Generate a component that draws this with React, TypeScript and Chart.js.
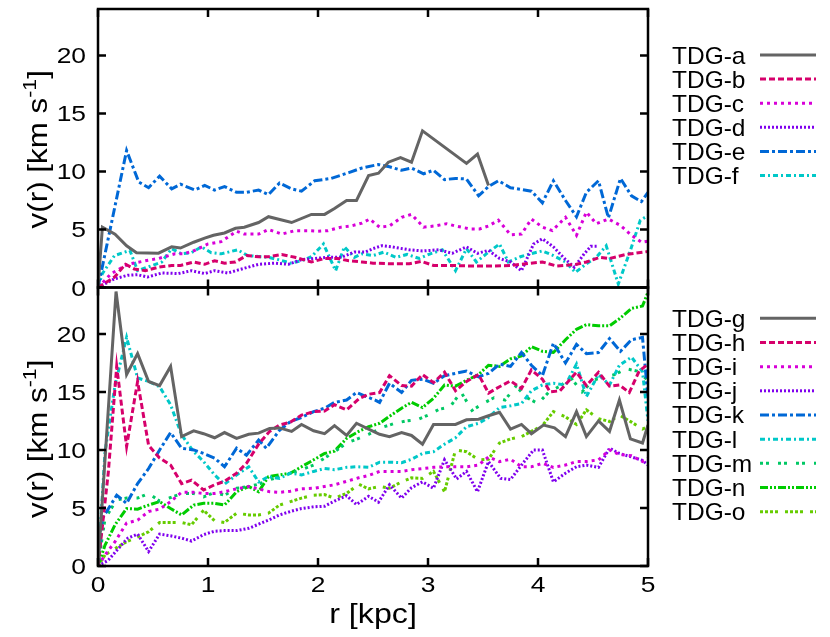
import React, { useEffect, useRef } from 'react';
import { Chart, registerables } from 'chart.js';

Chart.register(...registerables);

// ---------- data (r in kpc, v in km/s) ----------
const rA = [0, 0.04, 0.155, 0.26, 0.35, 0.55, 0.67, 0.75, 0.87, 0.97, 1.05, 1.15, 1.25, 1.33, 1.46, 1.55, 1.76, 1.94, 2.06, 2.15, 2.26, 2.35, 2.46, 2.55, 2.64, 2.75, 2.85, 2.95, 3.35, 3.45, 3.55];
const vA = [0, 5.2, 4.6, 3.6, 3.0, 2.96, 3.5, 3.4, 3.9, 4.25, 4.5, 4.7, 5.1, 5.2, 5.6, 6.1, 5.6, 6.3, 6.3, 6.8, 7.5, 7.5, 9.65, 9.85, 10.8, 11.2, 10.8, 13.5, 10.7, 11.5, 8.8];

const rB = [0, 0.15, 0.25, 0.33, 0.43, 0.55, 0.67, 0.75, 0.87, 0.97, 1.06, 1.15, 1.25, 1.35, 1.46, 1.55, 1.67, 1.79, 1.94, 2.06, 2.18, 2.28, 2.4, 2.5, 2.65, 2.83, 2.94, 3.05, 3.23, 3.38, 3.56, 3.75, 3.89, 4.04, 4.17, 4.35, 4.44, 4.56, 4.65, 4.8, 4.96, 5.0];
const vB = [0, 0.9, 2.0, 1.6, 1.45, 1.75, 1.9, 1.9, 2.2, 2.0, 2.3, 2.1, 2.2, 2.75, 2.65, 2.65, 2.85, 2.6, 2.2, 2.5, 2.5, 2.3, 2.2, 2.1, 2.05, 2.05, 2.25, 1.9, 1.9, 1.85, 1.85, 1.9, 2.05, 2.2, 1.85, 2.0, 2.2, 2.6, 2.5, 2.85, 3.05, 3.1];

const rC = [0, 0.12, 0.27, 0.43, 0.55, 0.7, 0.78, 0.88, 1.0, 1.12, 1.26, 1.33, 1.46, 1.55, 1.67, 1.79, 1.91, 2.0, 2.09, 2.21, 2.3, 2.4, 2.47, 2.56, 2.65, 2.76, 2.85, 2.96, 3.06, 3.17, 3.25, 3.38, 3.47, 3.55, 3.64, 3.75, 3.85, 3.94, 4.04, 4.13, 4.25, 4.35, 4.44, 4.53, 4.64, 4.75, 4.85, 4.94, 5.0];
const vC = [0, 1.2, 2.0, 2.3, 2.5, 2.9, 2.9, 3.2, 3.75, 3.95, 4.85, 4.6, 4.6, 5.0, 4.6, 4.9, 4.9, 4.85, 4.9, 5.2, 5.3, 5.55, 5.9, 5.2, 5.3, 6.05, 6.3, 5.2, 5.3, 5.5, 5.3, 5.05, 5.05, 5.3, 5.8, 4.55, 4.6, 5.9, 5.2, 4.9, 6.05, 4.5, 6.5, 5.5, 5.9, 5.35, 4.5, 3.9, 4.0];

const rD = [0, 0.15, 0.27, 0.36, 0.45, 0.58, 0.73, 0.85, 0.97, 1.06, 1.18, 1.27, 1.46, 1.61, 1.73, 1.85, 1.97, 2.09, 2.21, 2.33, 2.43, 2.5, 2.58, 2.67, 2.83, 2.95, 3.1, 3.22, 3.35, 3.45, 3.55, 3.65, 3.75, 3.85, 3.96, 4.04, 4.14, 4.24, 4.33, 4.42, 4.48, 4.55];
const vD = [0, 0.75, 1.05, 1.1, 0.9, 1.25, 1.2, 1.45, 1.2, 1.45, 1.25, 1.5, 2.0, 2.1, 2.0, 2.4, 2.5, 2.6, 2.6, 3.05, 3.05, 3.35, 3.6, 3.5, 3.25, 3.15, 3.25, 2.95, 3.5, 2.95, 3.2, 2.5, 2.2, 1.45, 3.75, 4.2, 3.5, 2.5, 1.75, 2.9, 3.55, 3.55];

const rE = [0, 0.26, 0.37, 0.46, 0.56, 0.67, 0.75, 0.88, 0.97, 1.06, 1.15, 1.26, 1.35, 1.46, 1.55, 1.65, 1.76, 1.85, 1.97, 2.12, 2.28, 2.4, 2.5, 2.55, 2.65, 2.76, 2.85, 2.96, 3.05, 3.15, 3.25, 3.35, 3.46, 3.55, 3.64, 3.75, 3.85, 3.94, 4.04, 4.14, 4.25, 4.35, 4.44, 4.55, 4.64, 4.75, 4.85, 4.94, 5.0];
const vE = [0, 11.8, 9.1, 8.6, 9.6, 8.5, 8.9, 8.4, 8.8, 8.4, 8.7, 8.2, 8.2, 8.4, 8.0, 9.0, 8.5, 8.3, 9.2, 9.4, 9.9, 10.3, 10.5, 10.6, 10.4, 10.1, 10.3, 9.8, 10.1, 9.3, 9.4, 9.35, 7.9, 8.7, 9.2, 8.6, 8.45, 8.3, 7.3, 9.2, 7.5, 6.1, 8.2, 9.2, 6.0, 9.4, 7.9, 7.4, 8.2];

const rF = [0, 0.04, 0.15, 0.29, 0.36, 0.45, 0.58, 0.67, 0.76, 0.85, 0.94, 1.03, 1.12, 1.27, 1.36, 1.48, 1.55, 1.64, 1.75, 1.85, 1.94, 2.05, 2.16, 2.24, 2.33, 2.4, 2.5, 2.6, 2.71, 2.81, 2.92, 3.02, 3.13, 3.25, 3.35, 3.44, 3.53, 3.65, 3.73, 3.84, 3.93, 4.04, 4.14, 4.25, 4.34, 4.44, 4.53, 4.62, 4.73, 4.84, 4.93, 5.0];
const vF = [0, 1.2, 2.75, 3.2, 1.45, 1.75, 2.2, 3.35, 2.9, 3.0, 3.5, 3.0, 2.9, 3.25, 2.75, 2.65, 2.6, 2.4, 2.1, 2.3, 2.65, 3.75, 1.45, 3.5, 2.6, 2.9, 2.75, 3.05, 2.6, 2.85, 2.5, 2.9, 3.25, 1.45, 3.35, 2.2, 2.9, 3.75, 2.2, 2.65, 2.9, 3.15, 2.75, 2.2, 1.3, 2.05, 2.6, 3.6, 0.3, 3.2, 5.8, 6.2];

const rG = [0, 0.164, 0.26, 0.36, 0.46, 0.56, 0.66, 0.76, 0.87, 0.96, 1.06, 1.15, 1.26, 1.37, 1.46, 1.56, 1.65, 1.76, 1.85, 1.96, 2.06, 2.15, 2.26, 2.35, 2.46, 2.56, 2.65, 2.76, 2.85, 2.95, 3.05, 3.15, 3.25, 3.35, 3.46, 3.55, 3.65, 3.75, 3.85, 3.94, 4.05, 4.15, 4.25, 4.35, 4.44, 4.55, 4.65, 4.74, 4.84, 4.95, 5.0];
const vG = [0, 23.65, 16.5, 18.3, 15.9, 15.55, 17.2, 11.15, 11.65, 11.4, 11.05, 11.5, 11.0, 11.35, 11.45, 11.85, 11.9, 11.6, 12.2, 11.65, 11.4, 12.1, 11.25, 12.3, 11.8, 11.35, 11.15, 11.5, 11.25, 10.5, 12.2, 12.2, 12.2, 12.6, 12.65, 12.95, 13.25, 11.8, 12.2, 11.4, 12.15, 11.9, 11.15, 13.3, 11.15, 12.5, 11.6, 14.3, 10.95, 10.6, 12.15];

const rH = [0, 0.094, 0.17, 0.26, 0.36, 0.46, 0.56, 0.66, 0.76, 0.85, 0.96, 1.06, 1.15, 1.26, 1.35, 1.46, 1.56, 1.65, 1.75, 1.85, 1.96, 2.06, 2.15, 2.26, 2.37, 2.46, 2.56, 2.65, 2.76, 2.85, 2.95, 3.05, 3.15, 3.25, 3.35, 3.46, 3.55, 3.65, 3.75, 3.85, 3.94, 4.04, 4.11, 4.2, 4.35, 4.44, 4.55, 4.65, 4.74, 4.83, 4.92, 5.0];
const vH = [0, 8.1, 17.2, 10.3, 15.9, 10.4, 9.3, 8.7, 7.1, 7.4, 6.55, 7.0, 7.3, 8.0, 8.85, 10.5, 11.6, 12.15, 12.4, 13.0, 13.3, 13.35, 13.9, 13.45, 14.4, 14.8, 14.95, 16.4, 15.55, 15.5, 16.5, 15.8, 16.7, 15.1, 15.9, 16.5, 14.9, 15.45, 15.95, 15.3, 16.9, 16.1, 15.0, 15.1, 16.7, 15.55, 16.7, 15.5, 15.6, 14.95, 16.8, 17.4];

const rI = [0, 0.064, 0.155, 0.26, 0.36, 0.46, 0.56, 0.66, 0.76, 0.87, 0.96, 1.06, 1.15, 1.26, 1.37, 1.46, 1.56, 1.65, 1.75, 1.85, 1.96, 2.06, 2.15, 2.26, 2.37, 2.46, 2.56, 2.65, 2.76, 2.85, 2.95, 3.05, 3.15, 3.25, 3.35, 3.46, 3.55, 3.65, 3.75, 3.85, 3.94, 4.04, 4.14, 4.25, 4.35, 4.44, 4.55, 4.65, 4.74, 4.85, 4.95, 5.0];
const vI = [0, 0.95, 2.1, 3.7, 3.95, 4.7, 4.9, 5.55, 6.35, 6.35, 6.25, 6.25, 6.4, 6.65, 6.85, 6.65, 6.4, 6.35, 6.45, 6.65, 6.7, 6.85, 7.0, 7.3, 7.6, 7.8, 8.15, 8.15, 8.15, 8.3, 8.4, 8.5, 8.55, 8.55, 8.55, 8.7, 9.4, 9.0, 9.2, 8.55, 8.55, 8.85, 8.5, 8.7, 9.0, 9.0, 9.15, 10.0, 9.6, 9.5, 9.0, 9.3];

const rJ = [0, 0.094, 0.185, 0.27, 0.36, 0.46, 0.56, 0.66, 0.76, 0.85, 0.96, 1.06, 1.15, 1.26, 1.37, 1.46, 1.55, 1.65, 1.75, 1.85, 1.96, 2.06, 2.15, 2.26, 2.35, 2.46, 2.55, 2.65, 2.76, 2.85, 2.95, 3.05, 3.15, 3.26, 3.35, 3.45, 3.55, 3.66, 3.75, 3.85, 3.96, 4.04, 4.14, 4.25, 4.35, 4.44, 4.55, 4.65, 4.74, 4.85, 4.95, 5.0];
const vJ = [0, 0.5, 1.5, 2.4, 2.75, 1.25, 2.75, 2.6, 2.4, 2.15, 2.7, 3.0, 3.05, 3.05, 3.25, 3.6, 3.95, 4.4, 4.7, 4.95, 5.1, 5.15, 5.6, 6.05, 5.3, 6.0, 5.5, 7.0, 5.85, 6.75, 7.25, 6.7, 9.15, 7.5, 8.15, 6.4, 9.0, 7.55, 7.45, 8.7, 10.0, 10.0, 7.25, 8.0, 8.55, 8.7, 8.5, 10.15, 9.7, 9.4, 9.1, 8.7];

const rK = [0, 0.04, 0.17, 0.26, 0.36, 0.46, 0.56, 0.66, 0.76, 0.87, 0.96, 1.06, 1.15, 1.26, 1.35, 1.46, 1.53, 1.65, 1.75, 1.85, 1.96, 2.06, 2.15, 2.26, 2.35, 2.44, 2.52, 2.56, 2.65, 2.76, 2.85, 2.95, 3.05, 3.15, 3.25, 3.35, 3.46, 3.55, 3.65, 3.75, 3.85, 3.94, 4.04, 4.14, 4.25, 4.35, 4.44, 4.55, 4.65, 4.75, 4.85, 4.95, 5.0];
const vK = [0, 4.1, 6.1, 5.4, 7.1, 8.4, 10.0, 11.5, 10.15, 10.0, 9.7, 9.3, 8.55, 10.15, 9.55, 10.85, 10.15, 11.7, 12.45, 12.8, 13.3, 13.6, 14.1, 14.3, 14.95, 14.6, 14.3, 14.1, 15.75, 14.95, 16.0, 16.1, 15.75, 16.4, 16.6, 16.8, 16.3, 16.6, 17.4, 17.2, 18.4, 17.3, 16.4, 19.2, 17.5, 19.1, 18.3, 18.4, 19.6, 18.5, 19.5, 19.7, 14.5];

const rL = [0, 0.064, 0.155, 0.26, 0.36, 0.46, 0.56, 0.66, 0.76, 0.87, 0.96, 1.06, 1.15, 1.26, 1.37, 1.46, 1.55, 1.65, 1.75, 1.85, 1.96, 2.06, 2.15, 2.26, 2.35, 2.46, 2.56, 2.65, 2.76, 2.85, 2.95, 3.05, 3.15, 3.25, 3.35, 3.46, 3.55, 3.65, 3.75, 3.85, 3.94, 4.04, 4.14, 4.25, 4.35, 4.44, 4.55, 4.65, 4.74, 4.85, 4.95, 5.0];
const vL = [0, 9.85, 15.6, 19.7, 16.2, 15.9, 15.45, 13.9, 11.3, 9.85, 9.0, 7.85, 7.05, 7.85, 8.55, 7.25, 7.7, 7.55, 8.0, 7.85, 8.15, 8.4, 8.3, 8.5, 8.55, 8.5, 8.95, 8.95, 8.9, 9.2, 9.7, 9.85, 10.5, 11.05, 12.0, 12.3, 12.8, 13.65, 13.8, 14.0, 15.1, 15.6, 15.75, 15.6, 17.4, 14.6, 16.5, 15.6, 17.3, 18.0, 16.75, 12.5];

const rM = [0, 0.064, 0.17, 0.26, 0.36, 0.46, 0.56, 0.66, 0.76, 0.87, 0.96, 1.06, 1.15, 1.26, 1.37, 1.46, 1.55, 1.65, 1.75, 1.85, 1.96, 2.06, 2.15, 2.26, 2.37, 2.46, 2.6, 2.7, 2.8, 2.9, 3.0, 3.1, 3.2, 3.3, 3.4, 3.5, 3.6, 3.7, 3.8, 3.9, 4.0, 4.1, 4.2, 4.3, 4.4, 4.5, 4.6, 4.7, 4.8, 4.9, 5.0];
const vM = [0, 4.1, 5.7, 5.85, 5.85, 6.25, 5.6, 5.9, 6.25, 6.25, 5.95, 6.35, 6.1, 6.7, 6.85, 7.05, 7.4, 7.7, 8.0, 8.3, 8.7, 9.3, 9.85, 10.6, 11.0, 11.35, 12.0, 12.3, 12.5, 12.6, 13.0, 13.5, 13.7, 15.0, 13.4, 14.0, 14.5, 14.3, 15.5, 14.5, 14.0, 15.0, 15.5, 16.2, 15.0, 16.0, 16.3, 16.5, 17.0, 16.8, 16.0];

const rN = [0, 0.064, 0.155, 0.26, 0.36, 0.46, 0.56, 0.66, 0.76, 0.87, 0.96, 1.06, 1.15, 1.26, 1.37, 1.46, 1.55, 1.65, 1.75, 1.85, 1.96, 2.06, 2.15, 2.26, 2.37, 2.46, 2.56, 2.65, 2.76, 2.85, 2.95, 3.05, 3.15, 3.25, 3.35, 3.46, 3.55, 3.65, 3.75, 3.85, 3.94, 4.04, 4.14, 4.25, 4.35, 4.44, 4.55, 4.65, 4.74, 4.85, 4.95, 5.0];
const vN = [0, 1.8, 3.55, 4.95, 4.9, 5.25, 5.55, 4.95, 4.4, 5.25, 5.4, 5.4, 5.25, 6.4, 6.85, 6.4, 7.7, 7.85, 8.0, 8.55, 9.15, 9.7, 9.9, 11.0, 11.6, 12.0, 12.3, 12.9, 13.6, 14.1, 13.65, 14.45, 15.6, 15.5, 16.0, 16.5, 17.3, 17.2, 17.85, 18.1, 18.9, 18.5, 18.4, 19.5, 20.4, 20.8, 20.7, 20.7, 21.3, 22.2, 22.4, 23.6];

const rO = [0, 0.064, 0.155, 0.26, 0.36, 0.46, 0.56, 0.66, 0.76, 0.85, 0.96, 1.06, 1.15, 1.26, 1.37, 1.46, 1.55, 1.65, 1.75, 1.85, 1.96, 2.06, 2.15, 2.26, 2.37, 2.46, 2.56, 2.65, 2.76, 2.85, 2.95, 3.05, 3.15, 3.25, 3.35, 3.46, 3.55, 3.65, 3.75, 3.85, 3.94, 4.04, 4.14, 4.25, 4.35, 4.44, 4.55, 4.65, 4.74, 4.85, 4.95, 5.0];
const vO = [0, 0.95, 1.5, 2.1, 2.5, 2.95, 3.75, 3.75, 3.75, 3.55, 4.8, 3.9, 3.75, 4.55, 4.4, 4.4, 4.55, 5.25, 5.55, 5.85, 6.1, 6.15, 5.85, 6.25, 7.05, 6.65, 6.85, 6.7, 7.25, 7.6, 7.55, 8.15, 6.4, 10.0, 9.85, 9.15, 9.2, 10.6, 10.95, 11.15, 11.6, 12.1, 13.3, 12.85, 12.2, 13.45, 12.7, 12.45, 13.0, 12.4, 11.8, 12.0];

const topLabels = ['TDG-a', 'TDG-b', 'TDG-c', 'TDG-d', 'TDG-e', 'TDG-f'];
const bottomLabels = ['TDG-g', 'TDG-h', 'TDG-i', 'TDG-j', 'TDG-k', 'TDG-l', 'TDG-m', 'TDG-n', 'TDG-o'];
const xTickValues = [0, 1, 2, 3, 4, 5];
const yTickValues = [0, 5, 10, 15, 20];
const xTitle = 'r [kpc]';
const yTitleMain = 'v(r) [km s';
const yTitleSup = '-1';
const yTitleEnd = ']';

// ---------- styles ----------
const GRAY = '#646464';
const CRIMSON = '#d6006b';
const MAGENTA = '#d800d8';
const PURPLE = '#8000ee';
const BLUE = '#0068d6';
const CYAN = '#00c8c8';
const SPRING = '#00c864';
const GREEN = '#00cc00';
const YGREEN = '#66cc00';

const styleList = [
  { color: GRAY, dash: [] as number[] },
  { color: CRIMSON, dash: [6, 3] },
  { color: MAGENTA, dash: [3, 4] },
  { color: PURPLE, dash: [2, 2] },
  { color: BLUE, dash: [9, 3, 3, 3] },
  { color: CYAN, dash: [5, 3, 2, 3] },
  { color: SPRING, dash: [3, 3, 3, 9] },
  { color: GREEN, dash: [8, 2, 2, 2, 2, 2] },
  { color: YGREEN, dash: [3, 2, 3, 2, 3, 2, 3, 7] },
];

const topSeries = [[rA, vA], [rB, vB], [rC, vC], [rD, vD], [rE, vE], [rF, vF]];
const bottomSeries = [[rG, vG], [rH, vH], [rI, vI], [rJ, vJ], [rK, vK], [rL, vL], [rM, vM], [rN, vN], [rO, vO]];

const FONT = '"Liberation Sans", Arial, Helvetica, sans-serif';

function pts(r: number[], v: number[]) {
  const n = Math.min(r.length, v.length);
  const out: { x: number; y: number }[] = [];
  for (let i = 0; i < n; i++) out.push({ x: r[i], y: v[i] });
  return out;
}

function drawText(
  ctx: CanvasRenderingContext2D,
  text: string,
  x: number,
  y: number,
  size: number,
  sx: number,
  align: CanvasTextAlign,
  baseline: CanvasTextBaseline,
) {
  ctx.save();
  ctx.translate(x, y);
  ctx.scale(sx, 1);
  ctx.font = `${size}px ${FONT}`;
  ctx.textAlign = align;
  ctx.textBaseline = baseline;
  ctx.fillStyle = '#000';
  ctx.fillText(text, 0, 0);
  ctx.restore();
}

function drawYTitle(ctx: CanvasRenderingContext2D, cx: number, cy: number) {
  const size = 28;
  const sup = 19;
  const sx = 1.12;
  ctx.save();
  ctx.translate(cx, cy);
  ctx.rotate(-Math.PI / 2);
  ctx.scale(sx, 1);
  ctx.fillStyle = '#000';
  ctx.textBaseline = 'alphabetic';
  ctx.textAlign = 'left';
  ctx.font = `${size}px ${FONT}`;
  const w1 = ctx.measureText(yTitleMain).width;
  const w3 = ctx.measureText(yTitleEnd).width;
  ctx.font = `${sup}px ${FONT}`;
  const w2 = ctx.measureText(yTitleSup).width;
  let x = -(w1 + w2 + w3) / 2;
  ctx.font = `${size}px ${FONT}`;
  ctx.fillText(yTitleMain, x, 0);
  x += w1;
  ctx.font = `${sup}px ${FONT}`;
  ctx.fillText(yTitleSup, x, -11);
  x += w2;
  ctx.font = `${size}px ${FONT}`;
  ctx.fillText(yTitleEnd, x, 0);
  ctx.restore();
}

const decorPlugin = {
  id: 'decor',
  afterDatasetsDraw(chart: any) {
    const ctx: CanvasRenderingContext2D = chart.ctx;
    const xs = chart.scales.x;
    const panels = [chart.scales.yTop, chart.scales.yBot];
    const TL = 8;
    ctx.save();
    ctx.strokeStyle = '#000';
    ctx.lineWidth = 2.5;
    ctx.setLineDash([]);
    panels.forEach((ys: any) => {
      const l = xs.left;
      const r = xs.right;
      const t = ys.top;
      const b = ys.bottom;
      ctx.strokeRect(l, t, r - l, b - t);
      ctx.beginPath();
      xTickValues.forEach((tv) => {
        const px = xs.getPixelForValue(tv);
        ctx.moveTo(px, b);
        ctx.lineTo(px, b - TL);
        ctx.moveTo(px, t);
        ctx.lineTo(px, t + TL);
      });
      yTickValues.forEach((tv) => {
        const py = ys.getPixelForValue(tv);
        ctx.moveTo(l, py);
        ctx.lineTo(l + TL, py);
        ctx.moveTo(r, py);
        ctx.lineTo(r - TL, py);
      });
      ctx.stroke();
      yTickValues.forEach((tv) => {
        const py = ys.getPixelForValue(tv);
        drawText(ctx, String(tv), 86, py + 8, 22, 1.2, 'right', 'alphabetic');
      });
    });
    const bottom = chart.scales.yBot.bottom;
    xTickValues.forEach((tv) => {
      const px = xs.getPixelForValue(tv);
      drawText(ctx, String(tv), px, bottom + 26, 22, 1.2, 'center', 'alphabetic');
    });
    drawText(ctx, xTitle, (xs.left + xs.right) / 2, bottom + 57, 28, 1.15, 'center', 'alphabetic');
    const yt = chart.scales.yTop;
    const yb = chart.scales.yBot;
    drawYTitle(ctx, 47, (yt.top + yt.bottom) / 2 + 1);
    drawYTitle(ctx, 47, (yb.top + yb.bottom) / 2 + 12);

    // legends
    const drawLegend = (labels: string[], styles: typeof styleList, y0: number, step: number) => {
      labels.forEach((lab, i) => {
        const y = y0 + i * step;
        drawText(ctx, lab, 672, y + 8.5, 24, 1.02, 'left', 'alphabetic');
        ctx.save();
        ctx.strokeStyle = styles[i].color;
        ctx.lineWidth = 3;
        ctx.lineCap = 'butt';
        ctx.setLineDash(styles[i].dash);
        ctx.beginPath();
        ctx.moveTo(760, y);
        ctx.lineTo(816, y);
        ctx.stroke();
        ctx.restore();
      });
    };
    drawLegend(topLabels, styleList, 55, 24.1);
    drawLegend(bottomLabels, styleList, 318.3, 24.17);
    ctx.restore();
  },
};

export default function App() {
  const ref = useRef<HTMLCanvasElement | null>(null);
  useEffect(() => {
    if (!ref.current) return;
    const datasets: any[] = [];
    topSeries.forEach(([r, v], i) => {
      datasets.push({
        label: topLabels[i],
        data: pts(r, v),
        yAxisID: 'yTop',
        borderColor: styleList[i].color,
        borderDash: styleList[i].dash,
        borderWidth: 3,
        borderCapStyle: 'butt',
        pointRadius: 0,
        tension: 0,
        fill: false,
      });
    });
    bottomSeries.forEach(([r, v], i) => {
      datasets.push({
        label: bottomLabels[i],
        data: pts(r, v),
        yAxisID: 'yBot',
        borderColor: styleList[i].color,
        borderDash: styleList[i].dash,
        borderWidth: 3,
        borderCapStyle: 'butt',
        pointRadius: 0,
        tension: 0,
        fill: false,
      });
    });
    const chart = new Chart(ref.current, {
      type: 'line',
      data: { datasets },
      options: {
        animation: false,
        responsive: false,
        devicePixelRatio: 1,
        parsing: false,
        normalized: true,
        layout: { padding: { left: 98, right: 182, top: 9, bottom: 71 } },
        plugins: { legend: { display: false }, tooltip: { enabled: false } },
        scales: {
          x: { type: 'linear', min: 0, max: 5, display: false },
          yBot: { type: 'linear', position: 'left', min: 0, max: 24, display: false, stack: 'panels', stackWeight: 1 },
          yTop: { type: 'linear', position: 'left', min: 0, max: 24, display: false, stack: 'panels', stackWeight: 1 },
        },
      } as any,
      plugins: [decorPlugin],
    });
    return () => chart.destroy();
  }, []);
  return (
    <div style={{ position: 'fixed', left: 0, top: 0, width: 830, height: 637, background: '#fff' }}>
      <canvas ref={ref} width={830} height={637} style={{ display: 'block' }} />
    </div>
  );
}
